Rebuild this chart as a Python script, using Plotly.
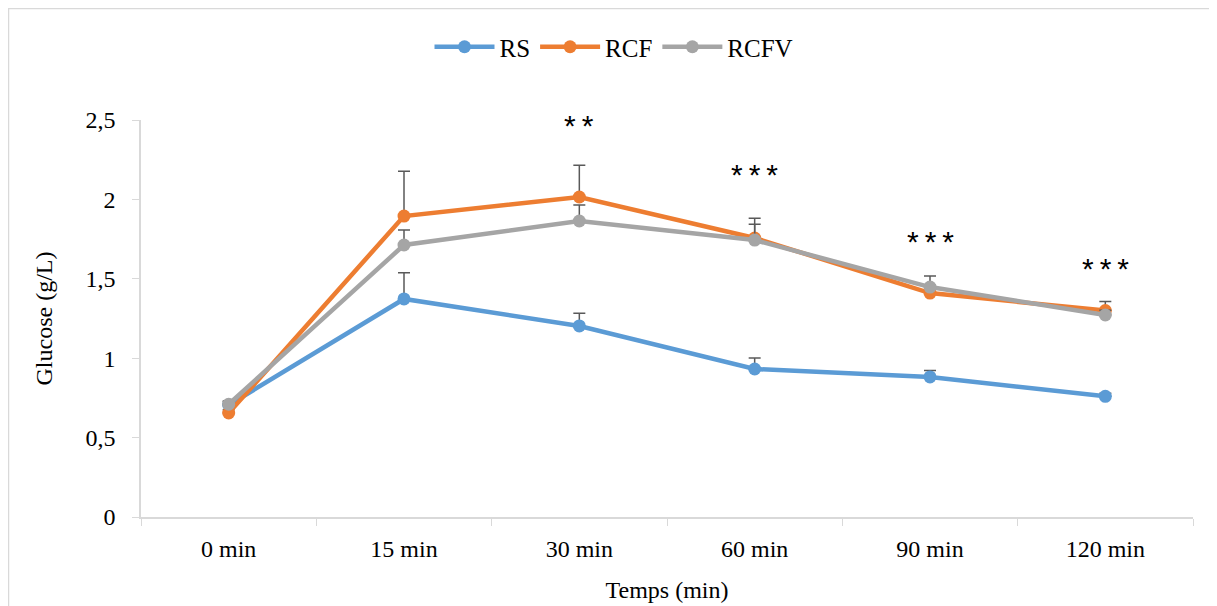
import plotly.graph_objects as go

categories = ["0 min", "15 min", "30 min", "60 min", "90 min", "120 min"]
rs = [0.705, 1.373, 1.203, 0.932, 0.882, 0.760]
rs_err = [0.02, 0.165, 0.08, 0.07, 0.04, 0.02]
rcf = [0.655, 1.895, 2.015, 1.757, 1.41, 1.30]
rcf_err = [0.02, 0.283, 0.20, 0.124, 0.05, 0.057]
rcfv = [0.71, 1.713, 1.864, 1.744, 1.448, 1.272]
rcfv_err = [0.02, 0.094, 0.10, 0.10, 0.07, 0.03]
sig_labels = ["", "", "**", "***", "***", "***"]
sig_y = [None, None, 2.465, 2.155, 1.738, 1.565]

series = [("RS", rs, rs_err, "#5B9BD5"),
          ("RCF", rcf, rcf_err, "#ED7D31"),
          ("RCFV", rcfv, rcfv_err, "#A5A5A5")]

fig = go.Figure()
for name, vals, errs, col in series:
    fig.add_trace(go.Scatter(
        x=categories, y=vals, name=name, mode="lines+markers",
        line=dict(color=col, width=4.5),
        marker=dict(color=col, size=13),
        error_y=dict(type="data", symmetric=False, array=errs,
                     arrayminus=[0] * len(errs), color="#595959",
                     thickness=1.5, width=6),
    ))

for c, lab, yv in zip(categories, sig_labels, sig_y):
    if lab:
        fig.add_annotation(x=c, y=yv, text="\u2009".join(lab), showarrow=False,
                           font=dict(family="Liberation Sans", size=30, color="#000000"),
                           xanchor="center", yanchor="middle")

# page has an 8px body margin; figure coordinates are page coordinates minus 8
OFF = 8
FW, FH = 1217 - OFF, 606 - OFF
L, R, T, B = 141 - OFF, 1193 - OFF, 120 - OFF, 517 - OFF
W, H = R - L, B - T
def px(x):
    return (x - OFF - L) / W
def py(y):
    return (B - (y - OFF)) / H

fig.add_shape(type="rect", xref="paper", yref="paper",
              x0=px(8.5), x1=px(1240), y0=py(640), y1=py(8.5),
              line=dict(color="#D9D9D9", width=1.5), fillcolor="rgba(0,0,0,0)",
              layer="below")

serif = "Times New Roman, Liberation Serif, serif"
FS = 24
fig.update_layout(
    width=FW, height=FH,
    margin=dict(l=L, r=FW - R, t=T, b=FH - B, autoexpand=False),
    paper_bgcolor="white", plot_bgcolor="white",
    font=dict(family=serif, size=FS, color="#000000"),
    separators=", ",
    showlegend=True,
    legend=dict(orientation="h", xref="container", yref="container",
                x=(614 - OFF) / FW, xanchor="center", y=1 - (47 - OFF) / FH, yanchor="middle",
                font=dict(family=serif, size=25), itemwidth=60,
                tracegroupgap=0),
    xaxis=dict(type="category", range=[-0.5, 5.5], showline=True, linecolor="#D9D9D9", linewidth=1.5,
               ticks="outside", tickson="boundaries", ticklen=7, tickcolor="#D9D9D9",
               showgrid=False, zeroline=False, ticklabelstandoff=9, automargin=False,
               tickfont=dict(family=serif, size=FS),
               title=dict(text="Temps (min)", font=dict(family=serif, size=FS), standoff=21)),
    yaxis=dict(range=[0, 2.5], dtick=0.5, showline=True, linecolor="#D9D9D9", linewidth=1.5,
               ticks="outside", ticklen=7, tickcolor="#D9D9D9",
               showgrid=False, zeroline=False, tickformat="~r", automargin=False,
               ticklabelstandoff=12,
               tickfont=dict(family=serif, size=FS),
               title=dict(text="Glucose (g/L)", font=dict(family=serif, size=FS), standoff=26)),
)

fig.write_html("out.html")
